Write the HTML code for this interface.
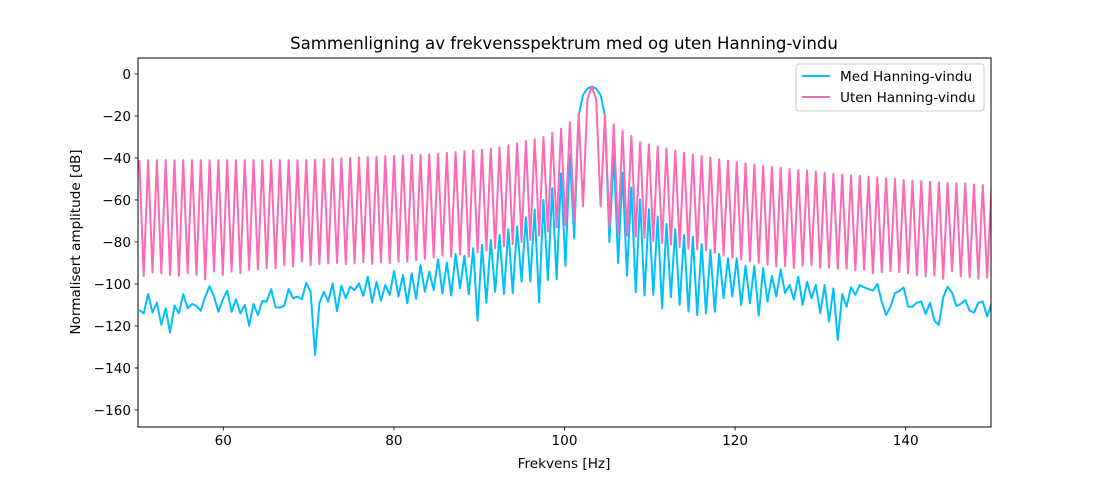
<!DOCTYPE html>
<html><head><meta charset="utf-8"><style>
body{margin:0;background:#fff;}
svg{display:block;font-family:"DejaVu Sans","Liberation Sans",sans-serif;}
</style></head><body>
<svg id="chart" width="1101" height="480">
<rect width="1101" height="480" fill="#fff"/>
<text x="564" y="49" text-anchor="middle" font-size="16.6" fill="#000">Sammenligning av frekvensspektrum med og uten Hanning-vindu</text>
<clipPath id="clip"><rect x="138" y="58" width="853" height="369"/></clipPath>
<g id="grid"></g>
<g id="series" clip-path="url(#clip)"></g>
<rect x="138" y="58" width="853" height="369" fill="none" stroke="#000" stroke-width="1"/>
<g id="axes"></g>
<text x="564" y="468" text-anchor="middle" font-size="13.6">Frekvens [Hz]</text>
<text transform="translate(80,242) rotate(-90)" text-anchor="middle" font-size="13.6">Normalisert amplitude [dB]</text>
<g>
<rect x="796" y="64" width="188" height="47" rx="3" fill="#fff" fill-opacity="0.8" stroke="#ccc"/>
<g><line x1="802" y1="76" x2="830" y2="76" stroke="#00bfff" stroke-width="2"/><text x="840" y="81" font-size="13.6">Med Hanning-vindu</text></g>
<g><line x1="802" y1="97" x2="830" y2="97" stroke="#ff69b4" stroke-width="2"/><text x="840" y="102" font-size="13.6">Uten Hanning-vindu</text></g>
</g>
</svg>
<script>
const freqStart = 50.155;
const freqStep = 0.515;
const xTicks = [60, 80, 100, 120, 140];
const yTicks = [0, -20, -40, -60, -80, -100, -120, -140, -160];
const utenHanning = [
-41,-96.2,-41,-94.6,-41,-94.9,-41,-95.7,-41,-96.2,-41,-94.9,-41,-95.7,-41,-97.8,-41,-94.1,-41,-95.7,-41,-94.1,-41,-94.9,-41,-93.3,-41,-93,-41,-92.5,-41,-92.5,-41,-91,-41,-91.7,-41,-89.3,-41,-91,
-40.8,-90.5,-40.6,-90.2,-40.4,-90,-40.2,-90.6,-40,-90.2,-39.8,-89.6,-39.6,-90.4,-39.4,-89.8,-39.2,-90,-39,-89.4,-38.8,-89.4,-38.6,-88.6,-38.4,-88,-38.2,-87.4,-38,-86.5,-37.6,-87,-37.2,-86,-36.8,-87,-36.4,-85,-36,-84,-35.5,-83,-35,-82,-34,-81,-33,-80,-32,-79,-31,-77,-30,-75,-28,-73,-26,-72,-23,-70,-19,-63,-12,
-6,
-12,-63,-19.5,-73,-24,-76,-27,-77,-29.5,-77.5,-32.5,-78,-33.5,-79.7,-34.5,-80.5,-35.5,-81.3,-36.5,-82.4,-37.5,-83.2,-38.4,-83.6,-39,-84,-39.7,-85.2,-40.6,-86.5,-41.3,-87.6,-42,-88.4,-42.5,-89.2,-43.2,-90,-43.8,-90.8,-44.1,-91.6,-44.6,-91.6,-45.2,-92.4,-45.7,-91.4,
-46,-91,-46.5,-92.2,-47,-92.2,-47.6,-92.8,-47.9,-92.8,-48.3,-93.5,-48.6,-93.2,-48.9,-95,-49.2,-94.3,-49.7,-94,-50,-94.3,-50.5,-95,-50.8,-95.9,-51,-96.4,-51.3,-95.9,-51.6,-97.5,-51.9,-94,-52.1,-96.4,-52.1,-96.8,-52.6,-97.5,-52.9,-97,-53];
const medHanning = [
-112.4,-114,-104.8,-113.6,-108.9,-119.5,-111.6,-123.2,-110.3,-114,-104.8,-111.6,-109.5,-110.5,-112.7,-106,-101,-106,-113.2,-107.3,-103.2,-113.2,-107.3,-114,-110,-119.9,-109.5,-114.8,-108.1,-108.4,-102.4,-111.1,-111.3,-110.3,-102.4,-106.8,-106,-107.3,-99.4,-103.7,-133.8,-109.2,-103.7,-108.4,-99.7,-112.9,-100.8,-106.8,-101.3,-102.9,-99.7,-105.6,-96.5,-108.9,-98.9,-108,-100.5,-105.2,-93.8,-106,-95.7,-109.2,-94.9,-107.1,-91,-103.7,-94.1,-102.9,-88.3,
-104.4,-89.8,-105.5,-85.7,-102.1,-86.7,-104.9,-83,-117.5,-81.4,-108.9,-79,-103.7,-76.7,-104.8,-73.9,-104.4,-72.7,-98.9,-68.3,-98.9,-64.5,-108.7,-60,-98.1,-54.4,-97.8,-47.3,-91.4,-38.6,-78.3,
-20,-10,-7,-6,-7,-10,-20,
-80,-38,-90,-47,-96,-54,-104,
-59.7,-105.5,-64.4,-105.2,-67.9,-111.6,-71.4,-106.3,-73.9,-110,-76.6,-113.2,-77.5,-114.8,-81,-114,-83.8,-113.2,-85.7,-106.8,-87.8,-106,-87.8,-110,-91.4,-109.2,-91.4,-115.1,-92.5,-108.4,-96.2,-106,-93,-104.4,-100.5,-107.3,-96.5,-110,-98.9,-106.8,-100.5,-114,-100.5,-117.9,-102.1,-126.7,
-104.8,-110.8,-101.6,-105.2,-100.5,-101.6,-102.5,-103.2,-100,-108.4,-114.8,-110.8,-104.4,-103.3,-101.7,-110.8,-110.8,-108.9,-108.4,-114.3,-108.9,-117.5,-119.5,-106.3,-101.3,-104.1,-110.5,-109.5,-107.6,-112.7,-113.7,-108.9,-108.4,-115.5,-109.2];

const X0=138, X1=991, Y0=58, Y1=427;
const xMin=50, xMax=150, yMin=-168.1, yMax=7.6;
function xs(f){return X0+(f-xMin)/(xMax-xMin)*(X1-X0);}
function ys(v){return Y1-(v-yMin)/(yMax-yMin)*(Y1-Y0);}
const NS='http://www.w3.org/2000/svg';
const axes=document.getElementById('axes');
const series=document.getElementById('series');
function mk(tag,attrs,parent){const e=document.createElementNS(NS,tag);for(const k in attrs)e.setAttribute(k,attrs[k]);parent.appendChild(e);return e;}
xTicks.forEach(t=>{
  const x=xs(t);
  const tk=mk('line',{x1:x,x2:x,y1:Y1,y2:Y1+3.5,stroke:'#000','stroke-width':0.8},axes);
  
  
  const lb=mk('text',{x:x,y:Y1+18,'text-anchor':'middle','font-size':13.6},axes);
  lb.textContent=String(t);
  
  
});
yTicks.forEach(t=>{
  const y=ys(t);
  const tk=mk('line',{x1:X0-3.5,x2:X0,y1:y,y2:y,stroke:'#000','stroke-width':0.8},axes);
  
  
  const lb=mk('text',{x:X0-7,y:y+5,'text-anchor':'end','font-size':13.6},axes);
  lb.textContent=(t<0?'\u2212'+Math.abs(t):String(t));
  
  
});
function line(vals,color,name){
  const d=vals.map((v,i)=>(i?'L':'M')+xs(freqStart+i*freqStep).toFixed(2)+','+ys(v).toFixed(2)).join('');
  const p=mk('path',{d:d,fill:'none',stroke:color,'stroke-width':2,'stroke-linejoin':'round'},series);
  
  
}
line(medHanning,'#00bfff','med-hanning-line');
line(utenHanning,'#ff69b4','uten-hanning-line');
</script>
</body></html>
